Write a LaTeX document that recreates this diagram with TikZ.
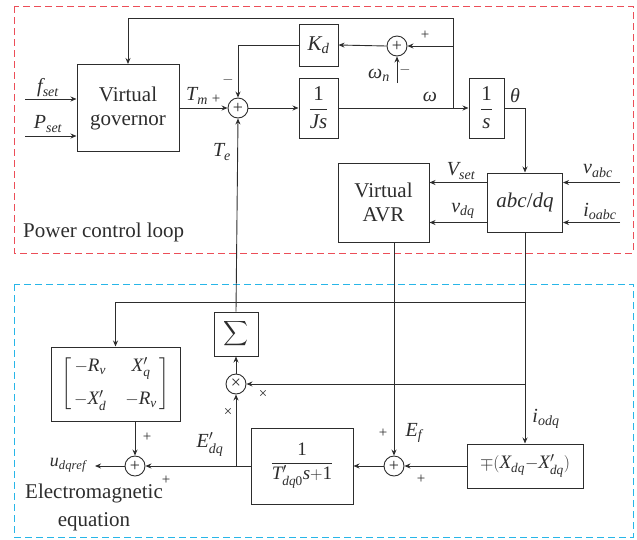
\documentclass[tikz,border=0pt]{standalone}
\usepackage{amsmath}
\usepackage{fontspec}
\setmainfont{Liberation Serif}
\usetikzlibrary{arrows.meta}
\definecolor{ln}{RGB}{45,45,45}
\definecolor{redd}{RGB}{236,78,88}
\definecolor{blued}{RGB}{40,182,232}
\newcommand\mi[1]{\mathit{#1}}
\begin{document}
\begin{tikzpicture}[x=1pt,y=-1pt,
  blk/.style={draw=ln, line width=1pt, inner sep=0pt, text=ln, font=\fontsize{21}{24}\selectfont},
  sumc/.style={circle, draw=ln, line width=0.9pt, minimum size=20pt, inner sep=0pt, text=ln, font=\fontsize{18}{18}\selectfont},
  wire/.style={draw=ln, line width=0.9pt},
  arr/.style={wire, -{Stealth[length=6pt,width=5pt]}},
  lab/.style={text=ln, inner sep=0pt, font=\fontsize{20}{24}\selectfont},
  sgn/.style={text=ln, inner sep=0pt, font=\fontsize{15}{15}\selectfont},
  zone/.style={dash pattern=on 7pt off 4pt, line width=1pt}]
\useasboundingbox (0,0) rectangle (637,539);
% zones
\draw[zone, draw=redd] (14,6) rectangle (633,253);
\draw[zone, draw=blued] (14,284) rectangle (633,537);
\node[lab, anchor=west, font=\fontsize{21}{24}\selectfont] (pcl) at (23,232) {Power control loop};
\node[lab, align=center, font=\fontsize{21}{28}\selectfont] (eme) at (94,507) {Electromagnetic\\equation};
% blocks
\node[blk, minimum width=102pt, minimum height=87pt, align=center] (gov) at (128,108) {Virtual\\governor};
\node[sumc] (s1) at (238,108) {+};
\node[blk, minimum width=39pt, minimum height=42pt] (kd) at (318.5,45) {$\mi{K}_{\mi{d}}$};
\node[blk, minimum width=39pt, minimum height=60pt] (js) at (318.5,108) {$\dfrac{\mathrm{1}}{\mi{Js}}$};
\node[sumc] (s2) at (397,46) {+};
\node[blk, minimum width=35pt, minimum height=60pt] (ints) at (486.5,108) {$\dfrac{\mathrm{1}}{\mi{s}}$};
\node[blk, minimum width=75pt, minimum height=59pt] (abc) at (525,202.5) {\textit{abc}/\textit{dq}};
\node[blk, minimum width=91pt, minimum height=79pt, align=center] (avr) at (383.5,202.5) {Virtual\\AVR};
\node[blk, minimum width=44pt, minimum height=44pt] (sig) at (236,334) {{\fontsize{16}{16}\selectfont$\displaystyle\sum$}};
\node[sumc] (mul) at (236,384) {×};
\node[blk, minimum width=129pt, minimum height=74pt] (mat) at (115.5,384) {\fontsize{19}{22}\selectfont$\left[\begin{array}{@{\,}c@{\quad}c@{\,}}-\mi{R}_{\mi{v}} & \mi{X}'_{\mi{q}}\\[11pt] -\mi{X}'_{\mi{d}} & -\mi{R}_{\mi{v}}\end{array}\right]$};
\node[sumc] (s4) at (135,466) {+};
\node[blk, minimum width=102pt, minimum height=76pt] (tb) at (302,466) {\fontsize{19}{22}\selectfont$\dfrac{\mathrm{1}}{\mi{T}'_{\mi{dq}\mathrm{0}}\mi{s}{+}\mathrm{1}}$};
\node[sumc] (s3) at (394,466) {+};
\node[blk, minimum width=116pt, minimum height=44pt] (mp) at (525,466) {\fontsize{19}{22}\selectfont$\mp(\mi{X}_{\mi{dq}}{-}\mi{X}'_{\mi{dq}})$};
% coordinates
\coordinate (fin) at (25,99);
\coordinate (pin) at (25,136);
\coordinate (wb) at (453,108);
\coordinate (wt) at (453,18);
\coordinate (wk) at (453,46);
\coordinate (wn) at (397,83);
\coordinate (vs) at ([yshift=20pt]abc.west);
\coordinate (vd) at ([yshift=-20pt]abc.west);
\coordinate (va) at (620,182.5);
\coordinate (io) at (620,222.5);
\coordinate (jm) at (525,302);
\coordinate (jx) at (525,384);
\coordinate (je) at (236,466);
\coordinate (out) at (95,466);
% connectors
\draw[arr] (fin) -- (fin -| gov.west);
\draw[arr] (pin) -- (pin -| gov.west);
\draw[arr] (gov.east |- s1) -- (s1.west);
\draw[arr] (s1.east) -- (js.west);
\draw[arr] (js.east) -- (ints.west);
\draw[wire] (wb) -- (wt);
\draw[arr] (wt) -| (gov.north);
\draw[arr] (wk) -- (s2.east);
\draw[arr] (s2.west) -- (kd.east);
\draw[arr] (kd.west) -| (s1.north);
\draw[arr] (wn) -- (s2.south);
\draw[arr] (ints.east) -| (abc.north);
\draw[arr] (vs) -- (vs -| avr.east);
\draw[arr] (vd) -- (vd -| avr.east);
\draw[arr] (va) -- (va -| abc.east);
\draw[arr] (io) -- (io -| abc.east);
\draw[arr] (avr.south -| s3) -- (s3.north);
\draw[arr] (abc.south) -- (mp.north);
\draw[arr] (jm) -| (mat.north);
\draw[arr] (jx) -- (mul.east);
\draw[arr] (mp.west) -- (s3.east);
\draw[arr] (s3.west) -- (tb.east);
\draw[arr] (tb.west) -- (s4.east);
\draw[arr] (je) -- (mul.south);
\draw[arr] (mul.north) -- (sig.south);
\draw[arr] (sig.north) -- (s1.south);
\draw[arr] (mat.south -| s4) -- (s4.north);
\draw[arr] (s4.west) -- (out);
% labels
\node[lab] (lf) at (48,88) {$\mi{f}_{\mi{set}}$};
\node[lab] (lp) at (48,124) {$\mi{P}_{\mi{set}}$};
\node[lab] (ltm) at (197,96) {$\mi{T}_{\mi{m}}$};
\node[sgn] (pl1) at (216,99) {+};
\node[sgn] (mi1) at (228,80) {$-$};
\node[lab] (lte) at (222,152) {$\mi{T}_{\mi{e}}$};
\node[lab] (lw) at (430,97) {\textit{ω}};
\node[lab] (lth) at (515,96) {\textit{θ}};
\node[lab] (lwn) at (379,75) {\textit{ω}\textsubscript{\textit{n}}};
\node[sgn] (mi2) at (405,70) {$-$};
\node[sgn] (pl2) at (425,35) {+};
\node[lab] (lvs) at (461,171) {$\mi{V}_{\mi{set}}$};
\node[lab] (lvd) at (463,211) {$\mi{v}_{\mi{dq}}$};
\node[lab] (lva) at (598,171) {$\mi{v}_{\mi{abc}}$};
\node[lab] (lio) at (600,211) {$\mi{i}_{\mi{oabc}}$};
\node[lab] (lid) at (546,419) {$\mi{i}_{\mi{odq}}$};
\node[lab] (lef) at (414,433) {$\mi{E}_{\mi{f}}$};
\node[sgn] (pl3) at (383,433) {+};
\node[sgn] (pl4) at (421,479) {+};
\node[lab] (led) at (210,444) {$\mi{E}'_{\mi{dq}}$};
\node[sgn] (x1) at (228,412) {×};
\node[sgn] (x2) at (263,394) {×};
\node[sgn] (pl5) at (147,437) {+};
\node[sgn] (pl6) at (166,480) {+};
\node[lab, font=\fontsize{18}{20}\selectfont] (lu) at (68,465) {$\mi{u}_{\mi{dqref}}$};
\end{tikzpicture}
\end{document}
